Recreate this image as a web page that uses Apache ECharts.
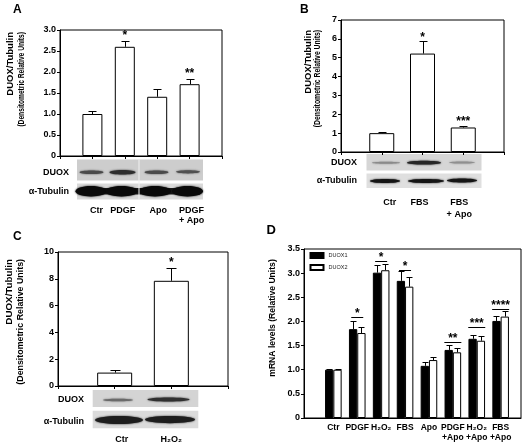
<!DOCTYPE html>
<html><head><meta charset="utf-8">
<script src="https://cdn.jsdelivr.net/npm/echarts@6/dist/echarts.min.js"></script>
<style>html,body{margin:0;padding:0;background:#fff}#c{width:531px;height:448px}</style>
</head><body><div id="c"></div>
<script>
// ---------------- data ----------------
const catsA = ['Ctr', 'PDGF', 'Apo', 'PDGF\n+ Apo'];
const valsA = [1.0, 2.6, 1.41, 1.71];
const errA = [0.07, 0.15, 0.18, 0.13];
const starsA = ['', '*', '', '**'];
const starPosA = [null, 2.93, null, 2.03];
const yTicksA = [0, 0.5, 1.0, 1.5, 2.0, 2.5, 3.0];

const catsB = ['Ctr', 'FBS', 'FBS\n+ Apo'];
const valsB = [1.0, 5.22, 1.3];
const errB = [0.07, 0.65, 0.07];
const starsB = ['', '*', '***'];
const starPosB = [null, 6.2, 1.78];
const yTicksB = [0, 1, 2, 3, 4, 5, 6, 7];

const catsC = ['Ctr', 'H₂O₂'];
const valsC = [1.0, 7.85];
const errC = [0.2, 0.95];
const starsC = ['', '*'];
const starPosC = [null, 9.4];
const yTicksC = [0, 2, 4, 6, 8, 10];

const catsD = ['Ctr', 'PDGF', 'H₂O₂', 'FBS', 'Apo', 'PDGF\n+Apo', 'H₂O₂\n+Apo', 'FBS\n+Apo'];
const seriesNamesD = ['DUOX1', 'DUOX2'];
const duox1 = [1.0, 1.84, 3.01, 2.84, 1.08, 1.41, 1.64, 2.01];
const duox1Err = [0.01, 0.16, 0.16, 0.2, 0.07, 0.1, 0.08, 0.1];
const duox2 = [1.0, 1.76, 3.06, 2.72, 1.2, 1.36, 1.6, 2.1];
const duox2Err = [0.02, 0.13, 0.13, 0.2, 0.07, 0.1, 0.1, 0.12];
const starsD = ['', '*', '*', '*', '', '**', '***', '****'];
const sigLineD = [null, 2.09, 3.25, 3.07, null, 1.58, 1.89, 2.25];
const yTicksD = [0, 0.5, 1.0, 1.5, 2.0, 2.5, 3.0, 3.5];

// ---------------- helpers ----------------
const FF = '"Liberation Sans", Arial, Helvetica, sans-serif';
const pad = a => [null, ...a, null];
const padCats = (a, offs) => ['', ...a.map((c, i) => {
  const d = offs[i] || 0;
  return {value: c, textStyle: {padding: d >= 0 ? [0, 0, 0, 2 * d] : [0, -2 * d, 0, 0]}};
}), ''];
const fmt1 = v => v === 0 ? '0' : v.toFixed(1);
const fmt0 = v => String(v);

function errRender(capHalf, offset) {
  return function (params, api) {
    const x = api.value(0), v = api.value(1), e = api.value(2);
    const p0 = api.coord([x, v]), p1 = api.coord([x, v + e]);
    const cx = Math.round(p0[0] + offset) + 0.5;
    const ty = Math.round(p1[1]) + 0.5;
    return {type: 'group', children: [
      {type: 'line', shape: {x1: cx, y1: p0[1], x2: cx, y2: ty}, style: {stroke: '#000', lineWidth: 1}},
      {type: 'line', shape: {x1: cx - capHalf, y1: ty, x2: cx + capHalf, y2: ty}, style: {stroke: '#000', lineWidth: 1}}
    ]};
  };
}
function starRender(stars, size) {
  return function (params, api) {
    const s = stars[params.dataIndex];
    if (!s) return null;
    const p = api.coord([api.value(0), api.value(1)]);
    return {type: 'text', x: p[0], y: p[1] + size * 0.23,
      style: {text: s, font: 'bold ' + size + 'px ' + FF, fill: '#000', align: 'center', verticalAlign: 'middle'}};
  };
}
function sigRenderD(params, api) {
  const s = starsD[params.dataIndex];
  if (!s) return null;
  const p = api.coord([api.value(0), api.value(1)]);
  const hw = s.length === 1 ? 6 : 8.5;
  const ly = Math.round(p[1]) + 0.5;
  return {type: 'group', children: [
    {type: 'line', shape: {x1: p[0] - hw, y1: ly, x2: p[0] + hw, y2: ly}, style: {stroke: '#000', lineWidth: 1}},
    {type: 'text', x: p[0], y: ly - 6.5 + 12 * 0.23,
      style: {text: s, font: 'bold 12px ' + FF, fill: '#000', align: 'center', verticalAlign: 'middle'}}
  ]};
}

const axisLine = {show: true, lineStyle: {color: '#000', width: 1}};
function catX(grid, cats, offs, margin, lh) {
  return {gridIndex: grid, type: 'category', data: padCats(cats, offs), boundaryGap: false,
    axisLine, axisTick: {show: true, length: 3, lineStyle: {color: '#000'}},
    axisLabel: {interval: 0, margin, color: '#000', fontFamily: FF, fontWeight: 'bold', fontSize: 9, lineHeight: lh}};
}
function valY(grid, ticks, fmt) {
  return {gridIndex: grid, type: 'value', min: ticks[0], max: ticks[ticks.length - 1], interval: ticks[1] - ticks[0],
    axisLine, axisTick: {show: true, length: 3, lineStyle: {color: '#000'}}, splitLine: {show: false},
    axisLabel: {margin: 4, color: '#000', fontFamily: FF, fontWeight: 'bold', fontSize: 9, formatter: fmt}};
}
const whiteBar = {color: '#fff', borderColor: '#000', borderWidth: 1};

// blots (image-like decoration)
function rect(x, y, w, h, fill) { return {type: 'rect', silent: true, shape: {x, y, width: w, height: h}, style: {fill}}; }
function band(cx, cy, rx, ry, color) { return {type: 'ellipse', silent: true, shape: {cx, cy, rx, ry}, style: {fill: color, shadowBlur: 2, shadowColor: color}}; }
function txt(x, y, text, size, align, extra) {
  return Object.assign({type: 'text', silent: true, x, y,
    style: {text, font: 'bold ' + size + 'px ' + FF, fill: '#000', align: align || 'left', verticalAlign: 'middle'}}, extra || {});
}
function vtxt(x, y, text, size, align, sx) {
  return {type: 'text', silent: true, x, y, rotation: Math.PI / 2, scaleX: sx || 1,
    style: {text, font: 'bold ' + size + 'px ' + FF, fill: '#000', align, verticalAlign: 'middle'}};
}

const graphics = [
  // panel letters
  txt(13, 9.5, 'A', 12), txt(300, 9.5, 'B', 12), txt(13, 236.5, 'C', 12), txt(266.5, 230.5, 'D', 13),
  // y titles
  vtxt(10.7, 32, 'DUOX/Tubulin', 9.5, 'right'), vtxt(21.7, 32, '(Densitometric Relative Units)', 9.5, 'right', 0.70),
  vtxt(308.3, 30, 'DUOX/Tubulin', 9.5, 'right'), vtxt(317.8, 30, '(Densitometric Relative Units)', 9.5, 'right', 0.72),
  vtxt(8.9, 259, 'DUOX/Tubulin', 9.8, 'right'), vtxt(20.2, 259, '(Densitometric Relative Units)', 9.5, 'right', 0.93),
  vtxt(272.5, 318, 'mRNA levels (Relative Units)', 8.6, 'center'),
  // blot A
  rect(77, 159.5, 126, 21, '#cdcdcd'), rect(77, 183.5, 126, 16, '#d9d9d9'),
  band(91.5, 172.3, 12, 1.8, '#4a4a4a'), band(122.5, 172.3, 13, 2.3, '#2e2e2e'),
  band(156.5, 172.3, 12, 1.8, '#4a4a4a'), band(188, 171.8, 12, 1.6, '#505050'),
  rect(80, 188, 120, 6.5, '#1a1a1a'),
  band(91, 191.3, 15.5, 5.2, '#0a0a0a'), band(121.5, 191.3, 16, 5.2, '#0a0a0a'),
  band(155, 191.3, 16, 5.2, '#0a0a0a'), band(187.5, 191.3, 15.5, 5.2, '#0a0a0a'),
  rect(138.5, 159.5, 1, 40, '#f2f2f2'),
  txt(69, 172.5, 'DUOX', 9, 'right'), txt(69, 191.5, 'α-Tubulin', 9, 'right'),
  // blot B
  rect(366.5, 154, 115, 16.5, '#d6d6d6'), rect(366.5, 173.5, 115, 14.5, '#dfdfdf'),
  band(386, 162.7, 14, 1, '#8a8a8a'), band(424, 162.7, 17, 1.9, '#262626'), band(462, 162.5, 13, 1.1, '#8f8f8f'),
  band(385, 181, 15, 2, '#151515'), band(426, 181, 18, 2, '#151515'), band(462, 180.6, 15, 2, '#151515'),
  txt(357, 163, 'DUOX', 9, 'right'), txt(357, 181, 'α-Tubulin', 9, 'right'),
  // blot C
  rect(92.7, 390, 105.6, 17, '#d4d4d4'), rect(92.7, 410.7, 105.6, 17.6, '#dbdbdb'),
  band(118, 400, 15, 1.3, '#6a6a6a'), band(168.5, 399.5, 21, 2, '#303030'),
  band(119, 420, 24, 4, '#1e1e1e'), band(170, 419.6, 25, 3.6, '#1e1e1e'),
  txt(84, 400, 'DUOX', 9, 'right'), txt(84, 421.5, 'α-Tubulin', 9, 'right')
];

// ---------------- chart ----------------
const chart = echarts.init(document.getElementById('c'), null, {renderer: 'canvas'});
const gridBox = {show: true, borderColor: '#000', borderWidth: 1, backgroundColor: 'transparent'};
const option = {
  animation: false,
  backgroundColor: '#fff',
  textStyle: {fontFamily: FF},
  legend: {data: seriesNamesD, orient: 'vertical', left: 309.5, top: 252, padding: 0, itemGap: 5,
    itemWidth: 13, itemHeight: 5, icon: 'rect', selectedMode: false,
    textStyle: {fontSize: 5.5, color: '#222', fontFamily: FF, lineHeight: 6}},
  grid: [
    Object.assign({left: 60, top: 30, width: 162, height: 126}, gridBox),
    Object.assign({left: 341, top: 20, width: 163, height: 132}, gridBox),
    Object.assign({left: 58, top: 252, width: 170, height: 134}, gridBox),
    Object.assign({left: 304, top: 249, width: 217, height: 169}, gridBox),
    {left: 321.4, top: 249, width: 191.2, height: 169}
  ],
  xAxis: [
    catX(0, catsA, [4, -2, 1, 2], 50, 10),
    catX(1, catsB, [8, -3, -4], 45, 11.5),
    catX(2, catsC, [7, 0], 49, 10),
    {gridIndex: 3, type: 'value', min: 0, max: 1, axisLine, axisTick: {show: false}, axisLabel: {show: false}, splitLine: {show: false}},
    {gridIndex: 4, type: 'category', data: catsD, boundaryGap: true, axisLine: {show: false}, axisTick: {show: false},
      axisLabel: {interval: 0, margin: 5, color: '#000', fontFamily: FF, fontWeight: 'bold', fontSize: 8.5, lineHeight: 10}}
  ],
  yAxis: [
    valY(0, yTicksA, fmt1),
    valY(1, yTicksB, fmt0),
    valY(2, yTicksC, fmt0),
    valY(3, yTicksD, fmt1),
    {gridIndex: 4, type: 'value', min: yTicksD[0], max: yTicksD[yTicksD.length - 1], show: false, splitLine: {show: false}}
  ],
  graphic: graphics,
  series: [
    {type: 'bar', xAxisIndex: 0, yAxisIndex: 0, data: pad(valsA), barWidth: 20, itemStyle: whiteBar},
    {type: 'custom', xAxisIndex: 0, yAxisIndex: 0, renderItem: errRender(4, 0), data: valsA.map((v, i) => [i + 1, v, errA[i]]), z: 5},
    {type: 'custom', xAxisIndex: 0, yAxisIndex: 0, renderItem: starRender(starsA, 12), data: starPosA.map((v, i) => [i + 1, v == null ? 0 : v]), z: 5},

    {type: 'bar', xAxisIndex: 1, yAxisIndex: 1, data: pad(valsB), barWidth: 25, itemStyle: whiteBar},
    {type: 'custom', xAxisIndex: 1, yAxisIndex: 1, renderItem: errRender(4, 0), data: valsB.map((v, i) => [i + 1, v, errB[i]]), z: 5},
    {type: 'custom', xAxisIndex: 1, yAxisIndex: 1, renderItem: starRender(starsB, 12), data: starPosB.map((v, i) => [i + 1, v == null ? 0 : v]), z: 5},

    {type: 'bar', xAxisIndex: 2, yAxisIndex: 2, data: pad(valsC), barWidth: 35, itemStyle: whiteBar},
    {type: 'custom', xAxisIndex: 2, yAxisIndex: 2, renderItem: errRender(5, 0), data: valsC.map((v, i) => [i + 1, v, errC[i]]), z: 5},
    {type: 'custom', xAxisIndex: 2, yAxisIndex: 2, renderItem: starRender(starsC, 12), data: starPosC.map((v, i) => [i + 1, v == null ? 0 : v]), z: 5},

    {type: 'bar', name: seriesNamesD[0], xAxisIndex: 4, yAxisIndex: 4, data: duox1, barWidth: 8.3, barGap: '0%',
      itemStyle: {color: '#000', borderColor: '#000', borderWidth: 1}},
    {type: 'bar', name: seriesNamesD[1], xAxisIndex: 4, yAxisIndex: 4, data: duox2, barWidth: 8.3, barGap: '0%',
      itemStyle: whiteBar},
    {type: 'custom', xAxisIndex: 4, yAxisIndex: 4, renderItem: errRender(3, -4.2), data: duox1.map((v, i) => [i, v, duox1Err[i]]), z: 5},
    {type: 'custom', xAxisIndex: 4, yAxisIndex: 4, renderItem: errRender(3, 4.2), data: duox2.map((v, i) => [i, v, duox2Err[i]]), z: 5},
    {type: 'custom', xAxisIndex: 4, yAxisIndex: 4, renderItem: sigRenderD, data: sigLineD.map((v, i) => [i, v == null ? 0 : v]), z: 5}
  ]
};
chart.setOption(option);
</script>
</body></html>
